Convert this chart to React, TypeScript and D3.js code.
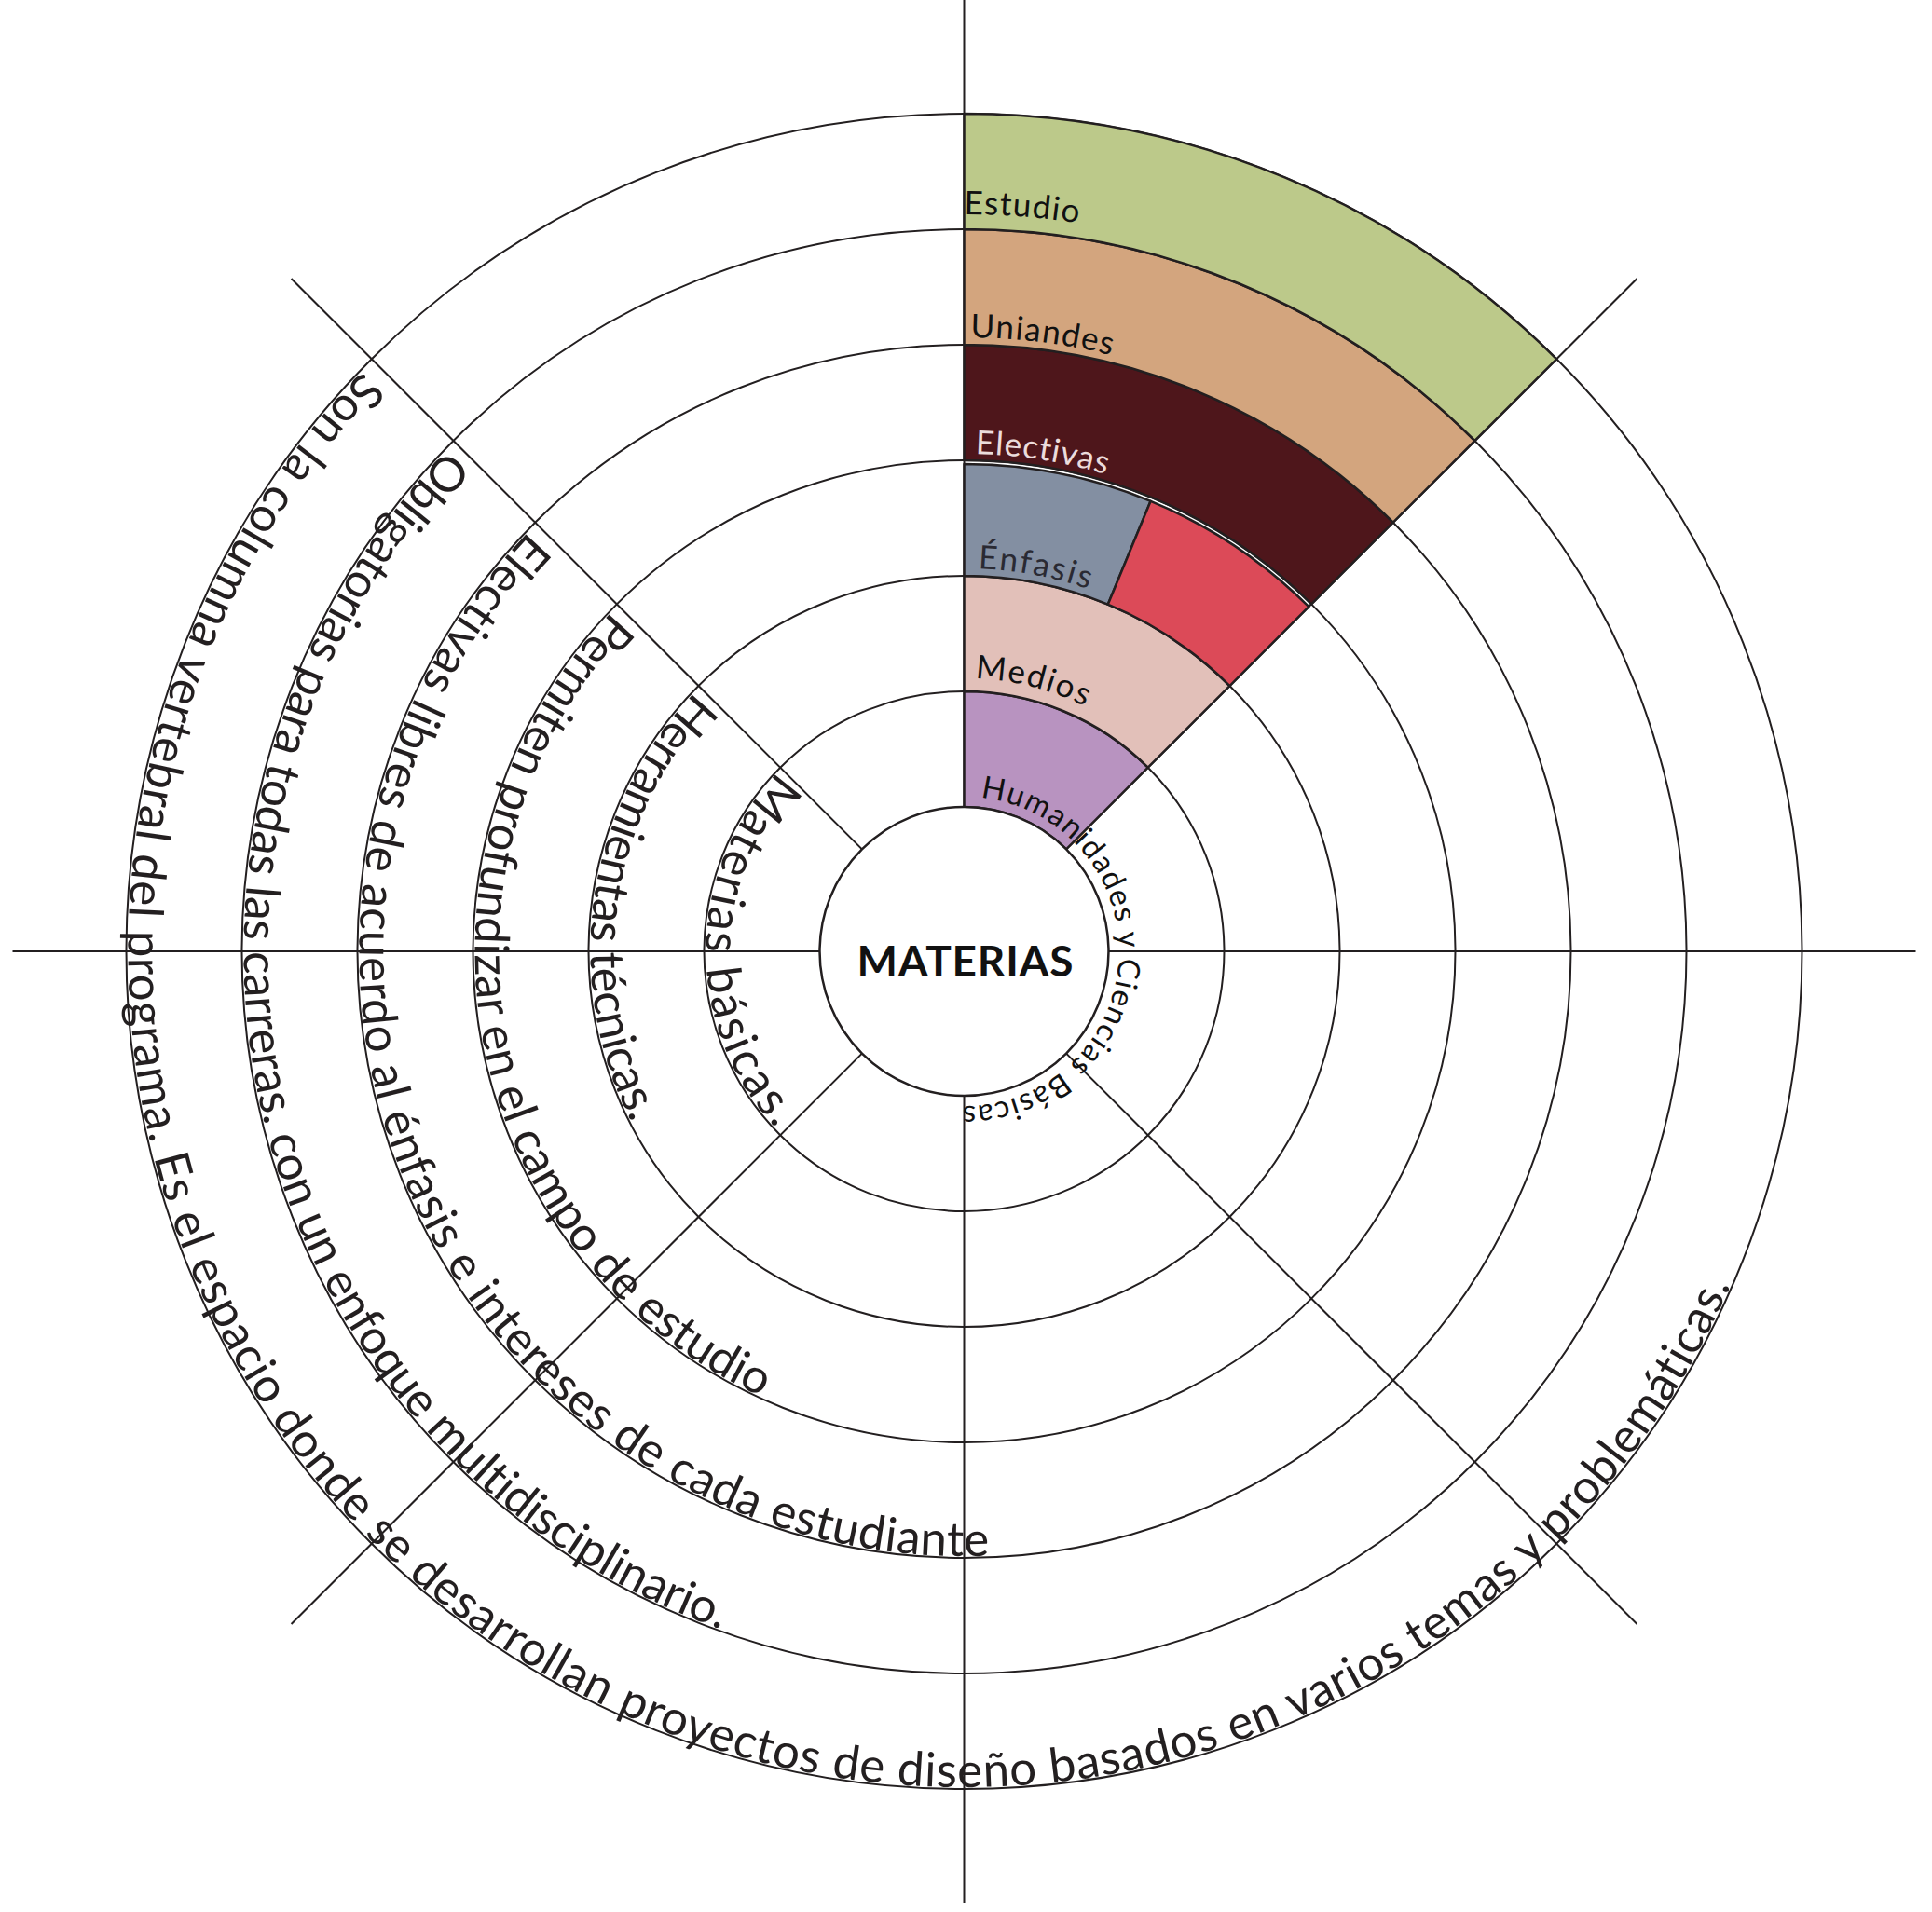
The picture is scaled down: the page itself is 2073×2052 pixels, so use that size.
import React, { useEffect, useRef } from "react";
import * as d3 from "d3";

const W = 2073;
const H = 2052;
const CX = 1034.5;
const CY = 1021;

// ring boundaries (index 0 = inner "MATERIAS" circle, 6 = outermost)
const ringBoundaries = [0, 1, 2, 3, 4, 5, 6];
const spokeAnglesDeg = [0, 45, 90, 135, 180, 225, 270, 315];

// coloured segments in the first 45° sector
const segmentNames = ["Humanidades", "Medios", "Énfasis", "Énfasis (2)", "Electivas", "Uniandes", "Estudio"];
const segmentRing = [0, 1, 2, 2, 3, 4, 5];
const segmentFrom = [0, 0, 0, 0.5, 0, 0, 0];
const segmentTo = [1, 1, 0.5, 1, 1, 1, 1];
const segmentColors = ["#b893c0", "#e2c0b9", "#838fa2", "#dc4a58", "#4e161b", "#d3a57e", "#bcc98a"];

// curved labels inside the segments
const labelTexts = ["Humanidades y Ciencias Básicas", "Medios", "Énfasis", "Electivas", "Uniandes", "Estudio"];
const labelRing = [0, 1, 2, 3, 4, 5];
const labelStartDeg = [6, 2.3, 2.1, 1.3, 0.6, 0];
const labelEndDeg = [180.5, 26.2, 18.9, 16.6, 13.85, 8.9];
const labelColors = ["#111111", "#111111", "#2a2a33", "#ecdcdc", "#111111", "#111111"];

// descriptions running counter-clockwise on the left side
const descriptions = [
  "Materias básicas.",
  "Herramientas técnicas.",
  "Permiten profundizar en el campo de estudio",
  "Electivas libres de acuerdo al énfasis e intereses de cada estudiante",
  "Obligatorias para todas las carreras. con un enfoque multidisciplinario.",
  "Son la columna vertebral del programa. Es el espacio donde se desarrollan proyectos de diseño basados en varios temas y problemáticas.",
];
const descriptionStartDeg = [314, 314, 314, 314, 314.2, 314];
const descriptionEndDeg = [226.8, 242.7, 204.5, 177.6, 199.7, 113.6];

const centerTitle = "MATERIAS";

const FONT = "Lato, 'Open Sans', sans-serif";
const INK = "#231f20";

function pt(r: number, deg: number): [number, number] {
  const a = (deg * Math.PI) / 180;
  return [CX + r * Math.sin(a), CY - r * Math.cos(a)];
}
function cwArc(r: number, d0: number, d1: number) {
  const [x0, y0] = pt(r, d0);
  const [x1, y1] = pt(r, d1);
  const large = d1 - d0 > 180 ? 1 : 0;
  return `M${x0},${y0} A${r},${r} 0 ${large} 1 ${x1},${y1}`;
}
function ccwArc(r: number, d0: number, d1: number) {
  const [x0, y0] = pt(r, d0);
  const [x1, y1] = pt(r, d1);
  const large = d0 - d1 > 180 ? 1 : 0;
  return `M${x0},${y0} A${r},${r} 0 ${large} 0 ${x1},${y1}`;
}

export default function App() {
  const ref = useRef<SVGSVGElement>(null);

  useEffect(() => {
    const svg = d3.select(ref.current as SVGSVGElement);
    svg.selectAll("*").remove();

    const radius = d3.scaleLinear().domain([0, 6]).range([155, 899]);
    const sector = d3.scaleLinear().domain([0, 1]).range([0, Math.PI / 4]);
    const spokeLen = 1021;

    const fitSpacing = (text: string, size: number, weight: number, target: number) => {
      const t = svg
        .append("text")
        .attr("font-family", FONT)
        .attr("font-size", size)
        .attr("font-weight", weight)
        .text(text);
      const w = (t.node() as SVGTextElement).getComputedTextLength();
      t.remove();
      return (target - w) / Math.max(1, text.length - 1);
    };

    svg.append("rect").attr("width", W).attr("height", H).attr("fill", "#ffffff");

    const defs = svg.append("defs");

    // circles
    svg
      .append("g")
      .selectAll("circle")
      .data(ringBoundaries.slice(1))
      .join("circle")
      .attr("cx", CX)
      .attr("cy", CY)
      .attr("r", (d) => radius(d))
      .attr("fill", "none")
      .attr("stroke", INK)
      .attr("stroke-width", 2);

    // spokes
    svg
      .append("g")
      .selectAll("line")
      .data(spokeAnglesDeg)
      .join("line")
      .attr("x1", (d) => pt(radius(0), d)[0])
      .attr("y1", (d) => pt(radius(0), d)[1])
      .attr("x2", (d) => pt(spokeLen, d)[0])
      .attr("y2", (d) => pt(spokeLen, d)[1])
      .attr("stroke", INK)
      .attr("stroke-width", 2);

    // segments
    const arc = d3.arc<number>()
      .innerRadius((i) => radius(segmentRing[i]))
      .outerRadius((i) => radius(segmentRing[i] + 1) - (segmentRing[i] === 2 ? 4 : 0))
      .startAngle((i) => sector(segmentFrom[i]))
      .endAngle((i) => sector(segmentTo[i]));

    svg
      .append("g")
      .attr("transform", `translate(${CX},${CY})`)
      .selectAll("path")
      .data(segmentNames.map((_, i) => i))
      .join("path")
      .attr("d", (i) => arc(i) as string)
      .attr("fill", (i) => segmentColors[i])
      .attr("stroke", INK)
      .attr("stroke-width", 2.5)
      .attr("stroke-linejoin", "round");

    // center circle
    svg
      .append("circle")
      .attr("cx", CX)
      .attr("cy", CY)
      .attr("r", radius(0))
      .attr("fill", "#ffffff")
      .attr("stroke", INK)
      .attr("stroke-width", 2.5);

    // labels
    const labelLift = [11, 14, 8, 7, 8, 16];
    labelTexts.forEach((txt, i) => {
      const r = radius(labelRing[i]) + labelLift[i];
      const id = `lbl${i}`;
      defs.append("path").attr("id", id).attr("d", cwArc(r, labelStartDeg[i], labelStartDeg[i] + 179));
      const target = ((labelEndDeg[i] - labelStartDeg[i]) * Math.PI * r) / 180;
      const size = i === 0 ? 33 : 35;
      const ls = fitSpacing(txt, size, 400, target);
      svg
        .append("text")
        .attr("font-family", FONT)
        .attr("font-size", size)
        .attr("letter-spacing", ls)
        .attr("fill", labelColors[i])
        .append("textPath")
        .attr("href", `#${id}`)
        .text(txt);
    });

    // descriptions
    descriptions.forEach((txt, i) => {
      const r = radius(i + 1) - 2;
      const id = `desc${i}`;
      const d0 = descriptionStartDeg[i];
      defs.append("path").attr("id", id).attr("d", ccwArc(r, d0, d0 - 330));
      const target = ((d0 - descriptionEndDeg[i]) * Math.PI * r) / 180;
      const size = 51;
      const ls = fitSpacing(txt, size, 400, target);
      svg
        .append("text")
        .attr("font-family", FONT)
        .attr("font-size", size)
        .attr("letter-spacing", ls)
        .attr("fill", INK)
        .append("textPath")
        .attr("href", `#${id}`)
        .text(txt);
    });

    // title
    svg
      .append("text")
      .attr("x", CX + 1)
      .attr("y", CY + 27)
      .attr("text-anchor", "middle")
      .attr("font-family", FONT)
      .attr("font-weight", 700)
      .attr("font-size", 46)
      .attr("textLength", 232)
      .attr("lengthAdjust", "spacing")
      .attr("fill", "#111111")
      .text(centerTitle);
  }, []);

  return (
    <svg
      ref={ref}
      width={W}
      height={H}
      style={{ position: "absolute", left: 0, top: 0, display: "block" }}
    />
  );
}
